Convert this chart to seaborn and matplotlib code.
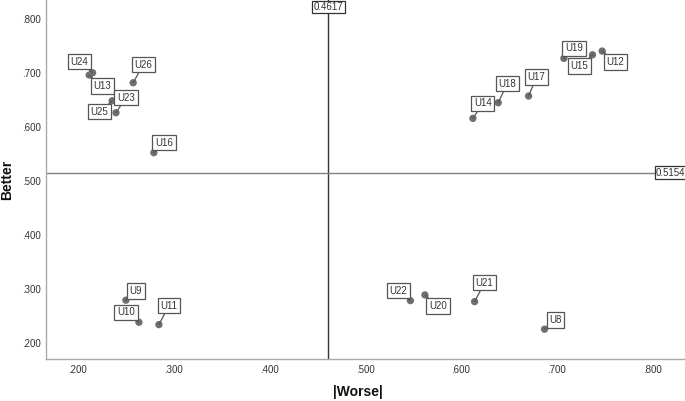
import matplotlib
matplotlib.use("Agg")
import matplotlib.pyplot as plt
import seaborn as sns
import pandas as pd

# --------------------------
# Data
# --------------------------
labels = ["U8", "U9", "U10", "U11", "U12", "U13", "U14", "U15", "U16", "U17",
          "U18", "U19", "U20", "U21", "U22", "U23", "U24", "U25", "U26"]
worse = [0.6875, 0.2501, 0.2637, 0.2846, 0.7477, 0.2118, 0.6126, 0.7376, 0.2793, 0.6708,
         0.6391, 0.7077, 0.5625, 0.6144, 0.5473, 0.2397, 0.2153, 0.2358, 0.2577]
better = [0.2249, 0.2787, 0.2378, 0.2334, 0.7412, 0.6967, 0.6163, 0.7343, 0.5525, 0.6577,
          0.6453, 0.7276, 0.2885, 0.2761, 0.2779, 0.6267, 0.7010, 0.6490, 0.6824]
mean_worse = 0.4617
mean_better = 0.5154

# label offsets in pixels (dx, dy)
offsets = {
    "U8": (11, 9), "U9": (10, 9), "U10": (-13, 10), "U11": (10, 19),
    "U12": (13, -11), "U13": (13, -11), "U14": (10, 15), "U15": (-13, -11),
    "U16": (10, 10), "U17": (8, 19), "U18": (9, 19), "U19": (10, 10),
    "U20": (13, -11), "U21": (10, 19), "U22": (-12, 10), "U23": (10, 15),
    "U24": (-13, 11), "U25": (-13, -11), "U26": (10, 18),
}

df = pd.DataFrame({"label": labels, "worse": worse, "better": better})

sns.set_style("white")
plt.rcParams["font.family"] = ["Liberation Sans", "DejaVu Sans"]

fig = plt.figure(figsize=(6.85, 4.01), dpi=100)
ax = fig.add_axes([0.0667, 0.104, 0.933, 0.896])

sns.scatterplot(data=df, x="worse", y="better", ax=ax, color="#707070",
                s=28, edgecolor="none", zorder=3)

ax.set_xlim(0.1663, 0.834)
ax.set_ylim(0.169, 0.836)

ax.axvline(mean_worse, color="#333333", lw=1.0, zorder=2)
ax.axhline(mean_better, color="#808080", lw=1.0, zorder=2)

box = dict(boxstyle="square,pad=0.28", fc="white", ec="#555555", lw=0.9)
for _, r in df.iterrows():
    dx, dy = offsets[r["label"]]
    ax.annotate(r["label"], (r["worse"], r["better"]), xytext=(dx, dy),
                textcoords="offset pixels", ha="center", va="center",
                fontsize=7, color="#333333", bbox=box,
                arrowprops=dict(arrowstyle="-", color="#555555", lw=0.9,
                                shrinkA=0, shrinkB=0), zorder=4)

# reference line labels
ref_box = dict(boxstyle="square,pad=0.15", fc="white", ec="#333333", lw=0.9)
ax.annotate(f"{mean_worse:.4f}", (mean_worse, 0.836), xytext=(0, -7),
            textcoords="offset pixels", ha="center", va="center",
            fontsize=7, color="#333333", bbox=ref_box, annotation_clip=False, zorder=5)
ax.annotate(f"{mean_better:.4f}", (0.834, mean_better), xytext=(-14, 0),
            textcoords="offset pixels", ha="center", va="center",
            fontsize=7, color="#333333", bbox=ref_box, annotation_clip=False, zorder=5)

xt = [0.2, 0.3, 0.4, 0.5, 0.6, 0.7, 0.8]
yt = [0.2, 0.3, 0.4, 0.5, 0.6, 0.7, 0.8]
ax.set_xticks(xt)
ax.set_yticks(yt)
ax.set_xticklabels([f"{v:.3f}"[1:] for v in xt], fontsize=7, color="#333333")
ax.set_yticklabels([f"{v:.3f}"[1:] for v in yt], fontsize=7, color="#333333")
ax.tick_params(axis="both", length=0)
ax.tick_params(axis="x", pad=4)
ax.tick_params(axis="y", pad=3.5)

for side in ["top", "right"]:
    ax.spines[side].set_visible(False)
for side in ["left", "bottom"]:
    ax.spines[side].set_color("#aaaaaa")
    ax.spines[side].set_linewidth(1.0)

ax.set_xlabel("|Worse|", fontsize=10, fontweight="bold", color="#111111")
ax.set_ylabel("Better", fontsize=10, fontweight="bold", color="#111111")
ax.xaxis.set_label_coords(0.488, -0.072)
ax.yaxis.set_label_coords(-0.05, 0.5)

fig.savefig("out.png", dpi=100)
